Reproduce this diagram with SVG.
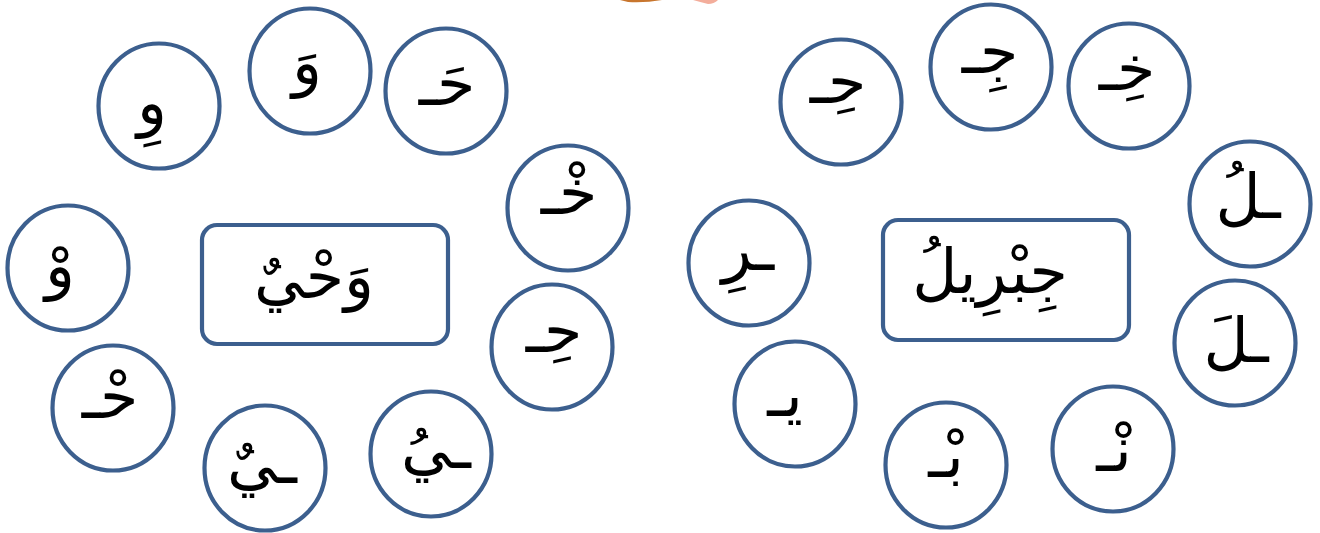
<svg xmlns="http://www.w3.org/2000/svg" width="1320" height="533" viewBox="0 0 1320 533">
<style>
.c{fill:#fff;stroke:#3c5f8e;stroke-width:4.2}
.t{font-family:"DejaVu Sans",sans-serif;font-size:62px;fill:#000;text-anchor:middle;direction:rtl}
</style>
<rect width="1320" height="533" fill="#fff"/>
<g id="decor">
<path d="M620 0 H662 Q645 3 628 2 Z" fill="#c8762e"/>
<path d="M693 0 H718 Q714 4 708 4 Q700 2 693 0 Z" fill="#f3ad9b"/>
</g>
<g id="connectors"></g>
<g id="left">
<g id="l-word"><rect class="c" x="202" y="225" width="246" height="119" rx="15"/><text class="t" x="314" y="298">وَحْيٌ</text></g>
<g id="l1"><ellipse class="c" cx="159" cy="106" rx="60.5" ry="62.5"/><text class="t" x="152" y="124">وِ</text></g>
<g id="l2"><ellipse class="c" cx="310" cy="71" rx="60.5" ry="62.5"/><text class="t" x="307" y="84">وَ</text></g>
<g id="l3"><ellipse class="c" cx="446" cy="91" rx="60.5" ry="62.5"/><text class="t" x="447" y="105">حَـ</text></g>
<g id="l4"><ellipse class="c" cx="568" cy="208" rx="60.5" ry="62.5"/><text class="t" x="569" y="214">خْـ</text></g>
<g id="l5"><ellipse class="c" cx="552" cy="347" rx="60.5" ry="62.5"/><text class="t" x="554" y="352">حِـ</text></g>
<g id="l6"><ellipse class="c" cx="431" cy="454" rx="60.5" ry="62.5"/><text class="t" x="436" y="468">ـيُ</text></g>
<g id="l7"><ellipse class="c" cx="265" cy="468" rx="60.5" ry="62.5"/><text class="t" x="262" y="483">ـيٌ</text></g>
<g id="l8"><ellipse class="c" cx="113" cy="408" rx="60.5" ry="62.5"/><text class="t" x="110" y="418">حْـ</text></g>
<g id="l9"><ellipse class="c" cx="68" cy="268" rx="60.5" ry="62.5"/><text class="t" x="60" y="287">وْ</text></g>
</g>
<g id="right">
<g id="r-word"><rect class="c" x="883" y="220" width="246" height="120" rx="15"/><text class="t" x="990" y="293">جِبْرِيلُ</text></g>
<g id="r1"><ellipse class="c" cx="841" cy="102" rx="60.5" ry="62.5"/><text class="t" x="838" y="103">حِـ</text></g>
<g id="r2"><ellipse class="c" cx="991" cy="67" rx="60.5" ry="62.5"/><text class="t" x="990" y="73">جِـ</text></g>
<g id="r3"><ellipse class="c" cx="1129" cy="86" rx="60.5" ry="62.5"/><text class="t" x="1127" y="90">خِـ</text></g>
<g id="r4"><ellipse class="c" cx="1250" cy="204" rx="60.5" ry="62.5"/><text class="t" x="1248" y="218">ـلُ</text></g>
<g id="r5"><ellipse class="c" cx="1235" cy="343" rx="60.5" ry="62.5"/><text class="t" x="1236" y="362">ـلَ</text></g>
<g id="r6"><ellipse class="c" cx="1113" cy="449" rx="60.5" ry="62.5"/><text class="t" x="1114" y="471">نْـ</text></g>
<g id="r7"><ellipse class="c" cx="946" cy="465" rx="60.5" ry="62.5"/><text class="t" x="946" y="477">بْـ</text></g>
<g id="r8"><ellipse class="c" cx="795" cy="404" rx="60.5" ry="62.5"/><text class="t" x="785" y="416">يـ</text></g>
<g id="r9"><ellipse class="c" cx="749" cy="263" rx="60.5" ry="62.5"/><text class="t" x="748" y="270">ـرِ</text></g>
</g>
</svg>
